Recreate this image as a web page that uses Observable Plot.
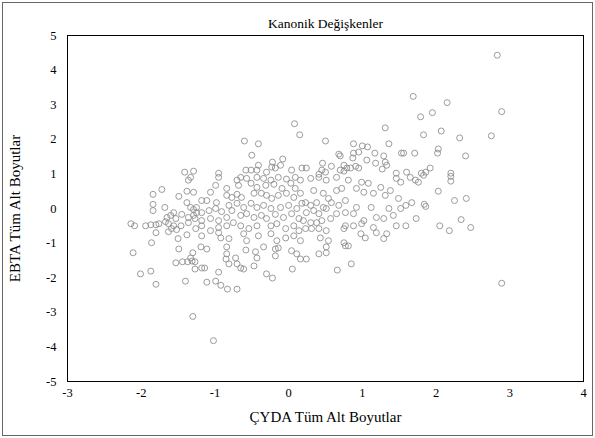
<!DOCTYPE html>
<html>
<head>
<meta charset="utf-8">
<script src="https://cdn.jsdelivr.net/npm/d3@7"></script>
<script src="https://cdn.jsdelivr.net/npm/@observablehq/plot@0.6"></script>
<style>
  html, body { margin: 0; padding: 0; background: #fff; }
  #wrap { position: relative; width: 595px; height: 438px; }
  #border { position: absolute; left: 2px; top: 2px; width: 589px; height: 432px; border: 1px solid #666; pointer-events: none; }
</style>
</head>
<body>
<div id="wrap"><div id="border"></div></div>
<script>
const title = "Kanonik Değişkenler";
const xLabel = "ÇYDA Tüm Alt Boyutlar";
const yLabel = "EBTA Tüm Alt Boyutlar";
const xTicks = [-3, -2, -1, 0, 1, 2, 3, 4];
const yTicks = [-5, -4, -3, -2, -1, 0, 1, 2, 3, 4, 5];

// canonical variable 1 (ÇYDA) and canonical variable 2 (EBTA)
const cyda = [
-2.11,-2.01,-1.87,-1.80,-1.49,-1.53,-1.44,-1.37,-1.31,-1.27,-1.30,-1.33,-1.27,-1.40,-1.18,-1.30,-1.19,
-1.11,-0.84,-0.58,-0.34,-0.18,-0.14,0.04,0.11,0.16,-0.84,-0.85,-0.81,-0.72,-0.45,-0.43,-0.18,-0.70,-0.65,-0.61,-0.47,-1.14,-0.95,-0.30,-0.22,0.05,-1.11,-0.99,-0.92,-0.83,-0.70,-1.02,
0.24,0.41,0.51,0.51,0.77,0.66,0.85,
2.89,
1.65,1.72,1.76,1.83,2.20,2.20,2.03,2.25,2.41,1.67,1.59,1.84,1.86,1.73,1.59,2.05,2.18,2.34,2.47,
2.83,1.69,2.15,1.79,1.95,2.89,1.83,2.07,2.32,2.75,1.56,1.71,2.03,2.02,2.40,1.60,1.80,1.86,1.92,2.20,
1.31,0.50,1.36,0.88,1.00,1.07,0.68,0.70,0.88,0.95,1.17,1.29,1.53,0.87,1.06,1.18,1.31,1.33,0.46,0.58,0.75,0.79,0.84,0.91,0.95,0.70,0.75,0.45,0.50,0.24,1.27,1.46,0.41,
0.08,0.15,-0.60,-0.41,-0.50,-0.08,-0.22,-0.41,-0.11,-0.23,-0.18,-0.58,-0.51,-0.43,-0.30,0.04,0.18,-0.95,
-1.41,-1.29,
-1.33,-1.36,-1.72,-1.84,-1.49,-1.38,-1.29,-1.84,-1.84,-1.68,-1.56,-1.38,-1.33,-1.29,-1.25,-1.18,-1.18,-1.65,-1.60,-1.53,-1.45,-1.36,-1.29,-1.25,-2.14,-2.09,-1.94,-1.87,-1.80,-1.76,-1.67,-1.63,-1.59,-1.56,-1.46,-1.36,-1.27,-1.18,-1.18,-1.80,-1.63,-1.52,-1.38,-1.26,-1.18,-1.86,-1.50,
-0.95,-0.70,-0.65,-0.57,-0.43,-0.34,-0.24,-0.14,-0.03,0.09,0.16,-0.99,-0.84,-0.68,-0.51,-0.43,-0.31,-0.20,-0.09,0.03,0.09,-1.06,-0.84,-0.77,-0.70,-0.64,-0.47,-0.37,-0.30,-0.23,-0.14,-0.03,0.07,0.16,-1.11,-0.98,
-0.81,-0.70,-0.61,-0.51,-0.43,-0.34,-0.24,-0.11,0.00,0.11,0.18,-1.08,-0.99,-0.91,-0.77,-0.65,-0.57,-0.47,-0.37,-0.30,-0.18,-0.07,0.04,0.14,-1.06,-0.95,-0.84,-0.75,
-0.95,-0.84,-0.65,-0.54,-0.43,-0.24,-0.16,-0.04,0.07,0.14,-1.06,-0.95,-0.92,-0.81,-0.61,-0.57,-0.41,-0.24,-0.16,-0.04,0.07,0.16,
0.30,0.41,0.51,0.65,0.81,0.99,1.08,1.25,1.46,1.52,0.34,0.47,0.54,0.65,0.72,0.92,1.02,1.15,1.31,1.38,1.49,
0.23,0.30,0.38,0.47,0.58,0.68,0.77,0.92,1.12,1.36,1.52,0.24,0.34,0.41,0.51,0.65,0.77,0.88,1.02,1.19,1.29,1.42,
0.20,0.30,0.38,0.45,0.57,0.77,0.88,0.99,1.15,1.46,0.23,0.31,0.41,0.51,0.75,0.98,1.04,1.19,1.33,0.43,0.54,0.75,0.81,1.29
];
const ebta = [
-1.28,-1.89,-1.81,-2.19,-1.17,-1.57,-1.54,-1.54,-1.52,-1.54,-1.28,-1.43,-1.75,-2.10,-1.72,-3.12,-1.11,
-1.17,-1.11,-1.20,-1.11,-1.17,-1.14,-1.22,-1.31,-1.46,-1.31,-1.46,-1.60,-1.43,-1.25,-1.43,-1.37,-1.60,-1.72,-1.75,-1.66,-1.72,-1.84,-1.89,-2.01,-1.75,-2.13,-2.10,-2.22,-2.33,-2.33,-3.82,
-1.46,-1.31,-1.28,-1.11,-1.08,-1.78,-1.60,
-2.16,
0.90,0.82,0.76,0.96,0.93,0.79,0.50,0.23,0.29,0.17,0.09,0.12,0.06,-0.29,-0.50,-0.50,-0.64,-0.32,-0.55,
4.43,3.24,3.06,2.65,2.77,2.80,2.13,2.24,2.04,2.10,1.60,1.60,1.72,1.60,1.52,1.05,1.02,1.05,1.17,1.02,
2.33,1.95,1.87,1.87,1.81,1.78,1.57,1.52,1.60,1.63,1.60,1.52,1.60,1.46,1.40,1.31,1.34,1.25,1.31,1.22,1.25,1.17,1.17,1.22,1.17,1.11,1.08,1.11,1.05,1.17,1.14,1.02,0.99,
2.45,2.13,1.95,1.87,1.54,1.43,1.34,1.25,1.25,1.20,1.17,1.11,1.11,1.11,1.05,1.11,1.17,1.02,
1.05,1.08,
0.90,0.82,0.55,0.41,0.35,0.50,0.47,0.12,-0.06,0.03,-0.12,0.17,0.03,-0.03,0.03,0.23,-0.12,-0.26,-0.20,-0.29,-0.17,-0.26,-0.20,-0.12,-0.44,-0.50,-0.50,-0.47,-0.47,-0.44,-0.38,-0.44,-0.58,-0.50,-0.50,-0.41,-0.29,-0.35,-0.50,-0.70,-0.67,-0.61,-0.76,-0.58,-0.79,-0.99,-0.87,
0.90,0.82,0.90,0.87,0.90,0.87,0.82,0.90,0.85,0.90,0.82,0.67,0.58,0.67,0.73,0.61,0.67,0.70,0.58,0.73,0.58,0.47,0.38,0.32,0.41,0.32,0.44,0.44,0.38,0.29,0.38,0.44,0.32,0.44,0.23,0.17,
0.09,0.15,0.03,0.15,0.03,0.09,0.00,0.03,0.09,0.00,0.15,-0.06,0.00,-0.09,-0.06,-0.20,-0.15,-0.26,-0.20,-0.29,-0.17,-0.26,-0.15,-0.29,-0.29,-0.35,-0.26,-0.41,
-0.55,-0.50,-0.50,-0.58,-0.50,-0.50,-0.44,-0.58,-0.50,-0.64,-0.64,-0.70,-0.85,-0.87,-0.73,-0.93,-0.79,-0.73,-0.93,-0.85,-0.79,-0.93,
0.87,0.90,0.82,0.90,0.82,0.76,0.73,0.61,0.87,0.76,0.52,0.44,0.29,0.52,0.58,0.58,0.47,0.44,0.38,0.52,0.29,
0.17,0.09,0.17,0.03,0.17,0.09,0.23,0.03,0.03,0.00,0.00,-0.12,-0.06,-0.15,0.00,-0.15,-0.12,-0.15,-0.35,-0.26,-0.29,-0.20,
-0.35,-0.41,-0.41,-0.35,-0.29,-0.50,-0.50,-0.44,-0.55,-0.50,-0.58,-0.58,-0.58,-0.64,-0.58,-0.73,-0.85,-0.70,-0.73,-0.85,-0.93,-0.99,-1.08,-0.87
];

const data = cyda.map((x, i) => ({x, y: ebta[i]}));
const serif = "'Liberation Serif', 'DejaVu Serif', serif";
const fmt = d => (d < 0 ? "-" + Math.abs(d) : String(d));

const chart = Plot.plot({
  width: 595,
  height: 438,
  marginLeft: 67,
  marginRight: 12,
  marginTop: 35,
  marginBottom: 57,
  style: {fontFamily: serif, fontSize: "12px", color: "#000", background: "transparent"},
  x: {domain: [-3, 4]},
  y: {domain: [-5, 5]},
  marks: [
    Plot.axisX(xTicks, {tickSize: 0, tickPadding: 7, tickFormat: fmt, label: null, fontSize: 12.5}),
    Plot.axisY(yTicks, {tickSize: 0, tickPadding: 11, tickFormat: fmt, label: null, fontSize: 12.5}),
    Plot.frame({stroke: "#000", strokeWidth: 1}),
    Plot.dot(data, {x: "x", y: "y", r: 3, stroke: "#8a8a8a", strokeWidth: 0.85, fill: "none"}),
    Plot.text([title], {frameAnchor: "top", dy: -17, fontSize: 13.5, fill: "#000"}),
    Plot.text([xLabel], {frameAnchor: "bottom", dy: 40, fontSize: 15, fill: "#000"}),
    Plot.text([yLabel], {frameAnchor: "left", textAnchor: "middle", dx: -52, rotate: -90, fontSize: 15, fill: "#000"})
  ]
});
document.getElementById("wrap").prepend(chart);
chart.style.position = "absolute";
chart.style.left = "0px";
chart.style.top = "0px";
</script>
</body>
</html>
